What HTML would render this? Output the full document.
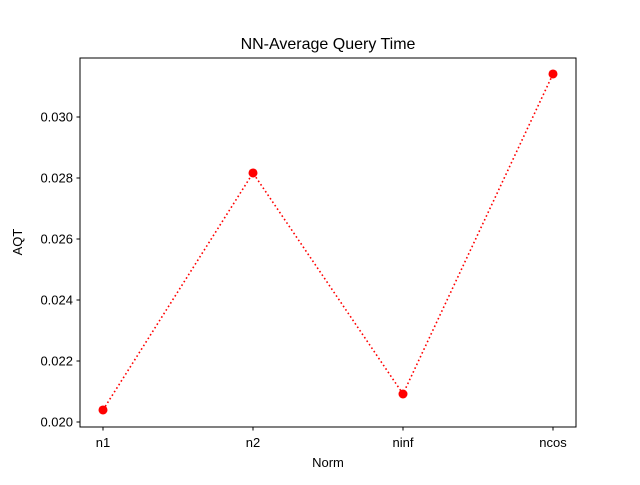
<!DOCTYPE html>
<html><head><meta charset="utf-8"><style>
body{margin:0;background:#fff}
svg text{font-family:"Liberation Sans","DejaVu Sans",sans-serif;fill:#000}
</style></head><body>
<svg id="chart" width="640" height="480" xmlns="http://www.w3.org/2000/svg">
<rect width="640" height="480" fill="#fff"/>
<text x="328" y="49" font-size="16" text-anchor="middle">NN-Average Query Time</text>
<g id="yticks"></g><g id="xticks"></g>
<polyline id="line" fill="none" stroke="#ff0000" stroke-width="1.6" stroke-dasharray="1.6,2.6"/>
<g id="points"></g>
<rect x="80" y="58" width="496" height="369" fill="none" stroke="#000" stroke-width="1"/>
<text x="328" y="467" font-size="13" text-anchor="middle">Norm</text>
<text transform="translate(22,242) rotate(-90)" font-size="13" text-anchor="middle">AQT</text>
</svg>
<script>
const categories=["n1","n2","ninf","ncos"];
const values=[0.020394,0.028164,0.020918,0.031410];
const yTicks=[0.020,0.022,0.024,0.026,0.028,0.030];
const yTickLabels=["0.020","0.022","0.024","0.026","0.028","0.030"];
const ns="http://www.w3.org/2000/svg";
const yMin=0.019836,yMax=0.031934,plotTop=58,plotBot=427;
function ys(v){return plotBot-(v-yMin)/(yMax-yMin)*(plotBot-plotTop);}
function xs(i){return 103+i*150;}
function mk(t,a,p){const e=document.createElementNS(ns,t);for(const k in a)e.setAttribute(k,a[k]);p.appendChild(e);return e;}
const yg=document.getElementById('yticks');
yTicks.forEach((v,i)=>{const y=ys(v);
 const l=mk('line',{x1:76.5,x2:80,y1:y,y2:y,stroke:'#000'},yg);
 
 
 const t=mk('text',{x:73,y:y+4.5,'font-size':13,'text-anchor':'end'},yg);t.textContent=yTickLabels[i];
 
 
});
const xg=document.getElementById('xticks');
categories.forEach((c,i)=>{const x=xs(i);
 const l=mk('line',{x1:x,x2:x,y1:427,y2:430.5,stroke:'#000'},xg);
 
 
 const t=mk('text',{x:x,y:447,'font-size':13,'text-anchor':'middle'},xg);t.textContent=c;
 
 
});
document.getElementById('line').setAttribute('points',values.map((v,i)=>xs(i)+','+ys(v)).join(' '));
const pg=document.getElementById('points');
values.forEach((v,i)=>{const c=mk('circle',{cx:xs(i),cy:ys(v),r:4.5,fill:'#ff0000'},pg);
 
 
});
</script>
</body></html>
